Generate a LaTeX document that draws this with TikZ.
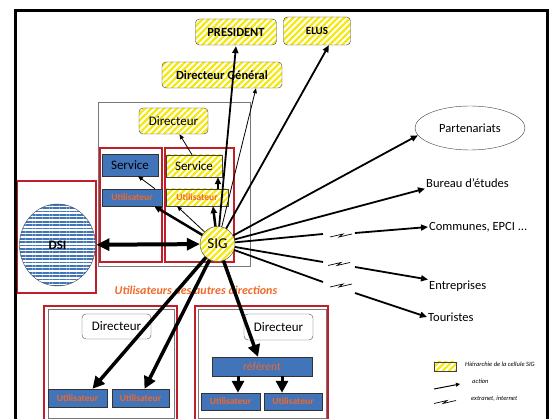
\documentclass[tikz,border=0pt]{standalone}
\usepackage{fontspec}
\setmainfont{Carlito}
\usetikzlibrary{arrows.meta,shapes.geometric,patterns.meta}

\definecolor{bleuSIG}{RGB}{66,116,186}
\definecolor{orangeSIG}{RGB}{240,105,40}
\definecolor{rougeSIG}{RGB}{192,30,40}
\definecolor{jauneSIG}{RGB}{245,232,10}
\definecolor{grisSIG}{RGB}{120,120,120}

\tikzset{
  hierarchie/.style={draw=black!75, preaction={fill=white}, inner sep=0pt,
    pattern={Lines[angle=45,distance=4.5pt,line width=2.2pt]}, pattern color=jauneSIG},
  arrondi/.style={rounded corners=4pt},
  bleu/.style={draw=black!80, fill=bleuSIG, inner sep=0pt},
  blanc/.style={draw=black!70, fill=white, rounded corners=4pt, inner sep=0pt},
  util/.style={text=orangeSIG, font=\bfseries\fontsize{9.5}{11}\selectfont},
  cadrerouge/.style={draw=rougeSIG, line width=1.6pt},
  cadregris/.style={draw=grisSIG, line width=0.8pt},
  cible/.style={inner sep=1pt, font=\fontsize{12.5}{14}\selectfont},
  legende/.style={inner sep=0pt, font=\itshape\fontsize{6.5}{8}\selectfont},
  lien/.style={-{Triangle[length=7pt,width=6pt]}, line width=1.8pt},
  fin/.style={-{Triangle[length=5pt,width=4pt]}, line width=0.8pt},
  gros/.style={-{Triangle[length=12pt,width=12pt]}, line width=3.5pt},
  rupture/.pic={\draw[line width=0.7pt] (-11,1.5) -- (2,-1.5) -- (-2,1.5) -- (11,-1.5);}
}

\begin{document}
\begin{tikzpicture}[x=1pt, y=-1pt, font=\fontsize{12}{14}\selectfont]
    \useasboundingbox (0,0) rectangle (549,419);

    % cadres des directions
    \draw[cadregris] (98,102) rectangle (250,266);
    \draw[cadrerouge] (100,148) rectangle (162,262);
    \draw[cadrerouge] (165,148) rectangle (234,262);
    \draw[cadrerouge] (17,181) rectangle (96,293);
    \draw[cadrerouge] (44,306) rectangle (177,430);
    \draw[cadregris] (48,309) rectangle (174,418);
    \draw[cadrerouge] (195,306) rectangle (328,430);
    \draw[cadregris] (198,309) rectangle (326,418);

    % hierarchie de la cellule SIG
    \node[hierarchie, arrondi, minimum width=81pt, minimum height=26pt, font=\bfseries\fontsize{12.5}{14}\selectfont] (president) at (236,32) {PRESIDENT};
    \node[hierarchie, arrondi, minimum width=67pt, minimum height=28pt, font=\bfseries\fontsize{11}{13}\selectfont] (elus) at (317,31) {ELUS};
    \node[hierarchie, arrondi, minimum width=120pt, minimum height=26pt, font=\bfseries\fontsize{12.5}{14}\selectfont] (dg) at (222,75) {Directeur Général};
    \node[hierarchie, arrondi, minimum width=69pt, minimum height=26pt, font=\fontsize{13}{15}\selectfont] (dir) at (173.5,121) {Directeur};
    \node[hierarchie, minimum width=56pt, minimum height=22pt, font=\fontsize{13}{15}\selectfont] (ys) at (194,166) {Service};
    \node[hierarchie, util, minimum width=62pt, minimum height=17pt] (yu) at (197,197.5) {Utilisateur};
    \node[hierarchie, circle, minimum size=35pt, font=\fontsize{15}{17}\selectfont] (sig) at (217.5,244) {SIG};

    % service de la direction
    \node[bleu, minimum width=56pt, minimum height=22pt, font=\fontsize{13}{15}\selectfont] (bs) at (130,165) {Service};
    \node[bleu, util, minimum width=60pt, minimum height=17pt] (bu) at (132,197.5) {Utilisateur};

    % DSI
    \node[ellipse, draw=black!75, preaction={fill=white}, minimum width=76pt, minimum height=82pt,
      pattern={Lines[angle=0,distance=3.4pt,line width=1.8pt]}, pattern color=bleuSIG,
      font=\bfseries\fontsize{13}{15}\selectfont] (dsi) at (57.5,245) {DSI};

    \node[text=orangeSIG, font=\bfseries\itshape\fontsize{12}{14}\selectfont] (autres) at (196,290) {Utilisateurs des autres directions};

    % autres directions
    \node[blanc, minimum width=69pt, minimum height=25pt, font=\fontsize{13}{15}\selectfont] (dirA) at (116.5,326.5) {Directeur};
    \node[bleu, util, minimum width=59pt, minimum height=18pt] (uA1) at (77.5,398) {Utilisateur};
    \node[bleu, util, minimum width=57pt, minimum height=18pt] (uA2) at (140.5,398) {Utilisateur};
    \node[blanc, minimum width=69pt, minimum height=26pt, font=\fontsize{13}{15}\selectfont] (dirB) at (278.5,327) {Directeur};
    \node[bleu, minimum width=100pt, minimum height=19pt, text=orangeSIG, font=\fontsize{11.5}{13}\selectfont] (ref) at (262,366.5) {référent};
    \node[bleu, util, minimum width=59pt, minimum height=17pt] (uB1) at (230.5,401.5) {Utilisateur};
    \node[bleu, util, minimum width=58pt, minimum height=17pt] (uB2) at (293,401.5) {Utilisateur};

    % partenaires
    \node[ellipse, draw=black!75, minimum width=110pt, minimum height=44pt, font=\fontsize{12.5}{14}\selectfont] (part) at (470,128) {Partenariats};
    \node[cible, anchor=west] (bureau) at (425,183) {Bureau d'études};
    \node[cible, anchor=west] (communes) at (428,227) {Communes, EPCI ...};
    \node[cible, anchor=west] (entreprises) at (428,286) {Entreprises};
    \node[cible, anchor=west] (touristes) at (427,317) {Touristes};

    % liaisons vers la hierarchie
    \draw[lien] (sig) -- (president.south);
    \draw[lien] (sig) -- (elus.310);
    \draw[fin] (sig) -- ([xshift=34pt]dg.south);
    \draw[fin] ([xshift=-2pt]ys.north) -- ([xshift=6pt]dir.south);
    \draw[lien, line width=2.5pt] (sig) -- ([xshift=16pt]yu.south);
    \draw[fin] (sig) -- ([xshift=-20pt]yu.south);
    \draw[lien] ([xshift=21pt]yu.north) -- ([xshift=24pt]ys.south);
    \draw[lien, line width=2.5pt] (sig) -- ([xshift=-8pt]bu.south east);
    \draw[fin] ([xshift=23pt]bu.north) -- ([xshift=8pt]bs.south);

    % DSI
    \draw[{Triangle[length=13pt,width=12pt]}-{Triangle[length=13pt,width=12pt]}, line width=4pt] (dsi) -- (sig);

    % autres directions
    \draw[gros] (sig) -- ([xshift=15pt]uA1.north);
    \draw[gros] (sig) -- ([xshift=4pt]uA2.north);
    \draw[gros] (sig) -- ([xshift=-4pt]ref.north);
    \draw[gros, line width=3pt] ([xshift=-24pt]ref.south) -- ([xshift=7.5pt]uB1.north);
    \draw[gros, line width=3pt] ([xshift=20pt]ref.south) -- ([xshift=-11pt]uB2.north);

    % partenaires
    \draw[lien] (sig) -- (part.188);
    \draw[lien] (sig) -- (bureau.south west);
    \coordinate (coupA1) at (323,234);
    \coordinate (coupA2) at (355,233);
    \coordinate (coupB1) at (323,262);
    \coordinate (coupB2) at (355,267);
    \coordinate (coupC1) at (323,282);
    \coordinate (coupC2) at (355,293);
    \draw[line width=1.8pt] (sig) -- (coupA1);
    \draw[line width=1.8pt] (sig) -- (coupB1);
    \draw[line width=1.8pt] (sig) -- (coupC1);
    \pic at (341,235.5) {rupture};
    \pic at (339,264) {rupture};
    \pic at (341,285.5) {rupture};
    \draw[lien] (coupA2) -- (communes.west);
    \draw[lien] (coupB2) -- (entreprises.north west);
    \draw[lien] (coupC2) -- (touristes.west);

    % legende
    \node[hierarchie, minimum width=22pt, minimum height=9pt] (legH) at (445,366.5) {};
    \node[legende, anchor=west] (legHtxt) at (465,364) {Hiérarchie de la cellule SIG};
    \coordinate (legA1) at (434,389);
    \coordinate (legA2) at (460,384);
    \draw[-{Triangle[length=4pt,width=4pt]}, line width=1pt] (legA1) -- (legA2);
    \node[legende, anchor=west] (legAtxt) at (472,381) {action};
    \pic at (445,402) {rupture};
    \node[legende, anchor=west] (legRtxt) at (471,399) {extranet, internet};

    % cadre general
    \draw[line width=3pt] (15,425) -- (15,11) -- (547,11) -- (547,425);
\end{tikzpicture}
\end{document}
